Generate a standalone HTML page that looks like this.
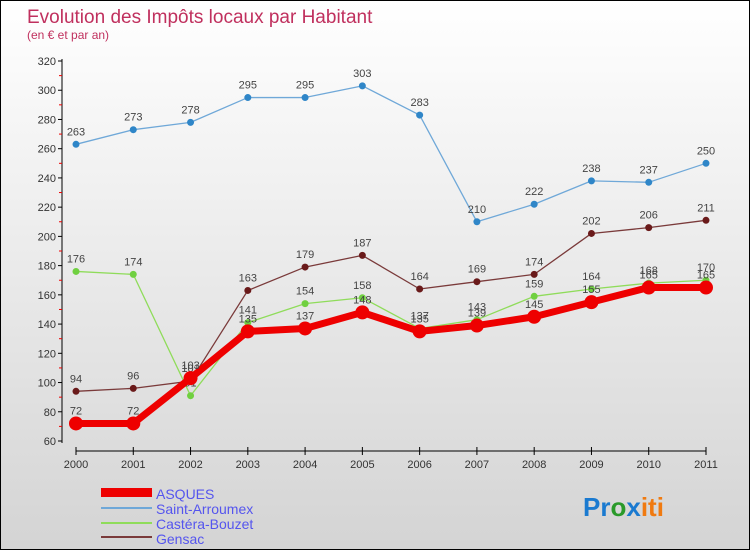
<!DOCTYPE html>
<html><head><meta charset="utf-8"><style>
body{margin:0}
#c{position:relative;width:748px;height:548px;border:1px solid #000;background:linear-gradient(#fff,#d4d4d4);font-family:"Liberation Sans","DejaVu Sans",sans-serif;overflow:hidden}
</style></head><body>
<div id="c">
<svg id="s" width="748" height="548">
<text x="26" y="22" font-size="19" fill="#c0305e">Evolution des Impôts locaux par Habitant</text>
<text x="26" y="38" font-size="12" fill="#c0305e">(en € et par an)</text>
<g id="axes"></g><g id="series"></g>
<g>
<rect x="100" y="487" width="51" height="9" fill="#e00"/>
<text x="155" y="498" font-size="14" fill="#5555ee">ASQUES</text>
<line x1="100" y1="507" x2="151" y2="507" stroke="#6fa8d8" stroke-width="2"/>
<text x="155" y="513" font-size="14" fill="#5555ee">Saint-Arroumex</text>
<line x1="100" y1="522" x2="151" y2="522" stroke="#8fdc5a" stroke-width="2"/>
<text x="155" y="528" font-size="14" fill="#5555ee">Castéra-Bouzet</text>
<line x1="100" y1="536" x2="151" y2="536" stroke="#7a3a3a" stroke-width="2"/>
<text x="155" y="543" font-size="14" fill="#5555ee">Gensac</text>
</g>
<text x="582" y="515" font-size="26" font-weight="bold"><tspan fill="#1a7ad0">Pr</tspan><tspan fill="#2a9a2a">o</tspan><tspan fill="#1a7ad0">x</tspan><tspan fill="#f07a10">iti</tspan></text>
</svg></div>
<script>
const years=["2000","2001","2002","2003","2004","2005","2006","2007","2008","2009","2010","2011"];
const yTicks=[60,80,100,120,140,160,180,200,220,240,260,280,300,320];
const asques=[72,72,103,135,137,148,135,139,145,155,165,165];
const saintArroumex=[263,273,278,295,295,303,283,210,222,238,237,250];
const casteraBouzet=[176,174,91,141,154,158,137,143,159,164,168,170];
const gensac=[94,96,101,163,179,187,164,169,174,202,206,211];
const NS="http://www.w3.org/2000/svg";
const X=i=>75+i*(705-75)/11;
const Y=v=>440-(v-60)*(440-60)/260;
function el(t,a,p){const e=document.createElementNS(NS,t);for(const k in a)e.setAttribute(k,a[k]);p.appendChild(e);return e;}
const ax=document.getElementById('axes');
let l=el('line',{x1:61,y1:58,x2:61,y2:442,stroke:'#000'},ax);


yTicks.forEach(v=>{
 el('line',{x1:57,y1:Y(v),x2:61,y2:Y(v),stroke:'#000'},ax);
 if(v<320)el('line',{x1:58,y1:Y(v+10),x2:61,y2:Y(v+10),stroke:'#e00'},ax);
 const t=el('text',{x:55,y:Y(v)+4,'font-size':11,fill:'#333','text-anchor':'end'},ax);t.textContent=v;
 
 
});
l=el('line',{x1:75,y1:450,x2:705,y2:450,stroke:'#000'},ax);


years.forEach((y,i)=>{
 el('line',{x1:X(i),y1:446,x2:X(i),y2:454,stroke:'#000'},ax);
 const t=el('text',{x:X(i),y:467,'font-size':11,fill:'#333','text-anchor':'middle'},ax);t.textContent=y;
 
 
});
const sg=document.getElementById('series');
function draw(data,name,color,w,r,pc){
 const g=el('g',{},sg);
 
 
 const pl=el('polyline',{points:data.map((v,i)=>X(i)+','+Y(v)).join(' '),fill:'none',stroke:color,'stroke-width':w,'stroke-linejoin':'round'},g);
 
 
 data.forEach((v,i)=>{
  const c=el('circle',{cx:X(i),cy:Y(v),r:r,fill:pc},g);
  
  
  const t=el('text',{x:X(i),y:Y(v)-9,'font-size':11,fill:'#444','text-anchor':'middle'},g);t.textContent=v;
  
  
 });
}
draw(saintArroumex,'saint-arroumex','#6fa8d8',1.3,3.5,'#2f86c8');
draw(gensac,'gensac','#7a3a3a',1.3,3.5,'#6a1a1a');
draw(casteraBouzet,'castera-bouzet','#8fdc5a',1.3,3.5,'#70d040');
draw(asques,'asques','#e00',7,7,'#e00');
</script></body></html>
